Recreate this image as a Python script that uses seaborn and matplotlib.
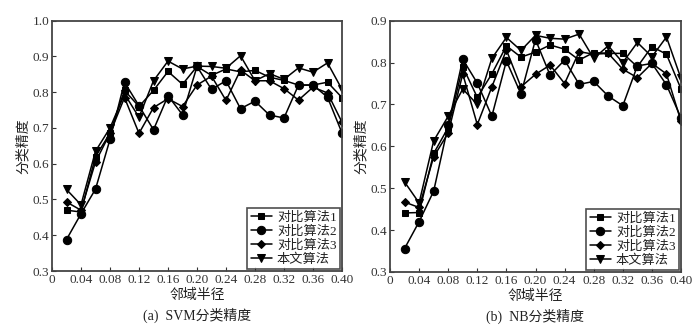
import numpy as np
import pandas as pd
import matplotlib
matplotlib.use("Agg")
import matplotlib.pyplot as plt
import seaborn as sns

sns.set_style("white")
plt.rcParams['font.family'] = ['Liberation Serif', 'Noto Sans CJK SC', 'DejaVu Sans']
plt.rcParams['axes.unicode_minus'] = False

radius = [0.02, 0.04, 0.06, 0.08, 0.10, 0.12, 0.14, 0.16, 0.18, 0.20,
          0.22, 0.24, 0.26, 0.28, 0.30, 0.32, 0.34, 0.36, 0.38, 0.40]
methods = ["对比算法1", "对比算法2", "对比算法3", "本文算法"]

svm_cmp1 = [0.470, 0.465, 0.620, 0.685, 0.805, 0.760, 0.805, 0.858, 0.822, 0.872,
            0.847, 0.865, 0.857, 0.861, 0.842, 0.833, 0.820, 0.820, 0.828, 0.785]
svm_cmp2 = [0.388, 0.460, 0.529, 0.668, 0.828, 0.762, 0.695, 0.790, 0.737, 0.872,
            0.808, 0.832, 0.754, 0.775, 0.736, 0.728, 0.820, 0.820, 0.786, 0.686]
svm_cmp3 = [0.493, 0.470, 0.605, 0.685, 0.785, 0.685, 0.757, 0.782, 0.760, 0.820,
            0.845, 0.777, 0.862, 0.832, 0.832, 0.810, 0.778, 0.814, 0.798, 0.716]
svm_ours = [0.528, 0.485, 0.635, 0.700, 0.795, 0.730, 0.832, 0.887, 0.865, 0.873,
            0.872, 0.867, 0.902, 0.832, 0.852, 0.836, 0.868, 0.856, 0.882, 0.808]

nb_cmp1 = [0.441, 0.442, 0.583, 0.645, 0.790, 0.717, 0.773, 0.840, 0.813, 0.825,
           0.842, 0.832, 0.806, 0.824, 0.822, 0.822, 0.790, 0.838, 0.820, 0.737]
nb_cmp2 = [0.356, 0.420, 0.493, 0.650, 0.808, 0.751, 0.672, 0.804, 0.725, 0.855,
           0.770, 0.806, 0.748, 0.755, 0.720, 0.697, 0.792, 0.798, 0.747, 0.668]
nb_cmp3 = [0.467, 0.454, 0.575, 0.632, 0.773, 0.652, 0.742, 0.830, 0.742, 0.772,
           0.794, 0.750, 0.826, 0.820, 0.822, 0.784, 0.764, 0.798, 0.773, 0.660]
nb_ours = [0.515, 0.465, 0.613, 0.672, 0.737, 0.700, 0.810, 0.860, 0.829, 0.865,
           0.858, 0.856, 0.868, 0.810, 0.840, 0.800, 0.848, 0.814, 0.861, 0.762]

xticks = [0, 0.04, 0.08, 0.12, 0.16, 0.20, 0.24, 0.28, 0.32, 0.36, 0.40]
xtick_labels = ["0", "0.04", "0.08", "0.12", "0.16", "0.20", "0.24", "0.28", "0.32", "0.36", "0.40"]
svm_yticks = [0.3, 0.4, 0.5, 0.6, 0.7, 0.8, 0.9, 1.0]
nb_yticks = [0.3, 0.4, 0.5, 0.6, 0.7, 0.8, 0.9]

markers = ['s', 'o', 'D', 'v']
msizes = [4.5, 6.0, 4.5, 6.2]

fig = plt.figure(figsize=(7.0, 3.35), dpi=100)
ax1 = fig.add_axes([52/700, 1-271/335, 290/700, 250.3/335])
ax2 = fig.add_axes([390/700, 1-272/335, 291/700, 251.3/335])

panels = [
    (ax1, [svm_cmp1, svm_cmp2, svm_cmp3, svm_ours], svm_yticks, "(a)  SVM分类精度"),
    (ax2, [nb_cmp1, nb_cmp2, nb_cmp3, nb_ours], nb_yticks, "(b)  NB分类精度"),
]

fs = 9.5
for ax, series, yt, cap in panels:
    for name, vals, mk, ms in zip(methods, series, markers, msizes):
        df = pd.DataFrame({"邻域半径": radius, "分类精度": vals})
        sns.lineplot(data=df, x="邻域半径", y="分类精度", ax=ax, color='black',
                     marker=mk, markersize=ms, markeredgecolor='black',
                     markerfacecolor='black', linewidth=1.1, label=name)
    ax.set_xlim(0, 0.40)
    ax.set_ylim(yt[0], yt[-1])
    ax.set_xticks(xticks)
    ax.set_xticklabels(xtick_labels, fontsize=fs)
    ax.set_yticks(yt)
    ax.set_yticklabels([f"{v:.1f}" for v in yt], fontsize=fs)
    ax.tick_params(direction='in', length=3, width=0.8, colors='#333333',
                   labelcolor='#333333', pad=2, left=True, bottom=True)
    for sp in ax.spines.values():
        sp.set_color('#444444')
        sp.set_linewidth(1.3)
    ax.set_xlabel("邻域半径", fontsize=fs+0.5, color='#222222', labelpad=2)
    ax.set_ylabel("分类精度", fontsize=fs+0.5, color='#222222', labelpad=2)
    ax.text(0.5, -0.145, cap, transform=ax.transAxes, ha='center', va='top',
            fontsize=fs+0.5, color='#222222')
    leg = ax.legend(loc='lower right', fontsize=fs, frameon=True, fancybox=False,
                    edgecolor='#222222', handlelength=1.6, handletextpad=0.4,
                    borderpad=0.25, labelspacing=0.12, borderaxespad=0.15)
    leg.get_frame().set_linewidth(1.2)
    for t in leg.get_texts():
        t.set_color('#222222')

fig.savefig("out.png", dpi=100)
